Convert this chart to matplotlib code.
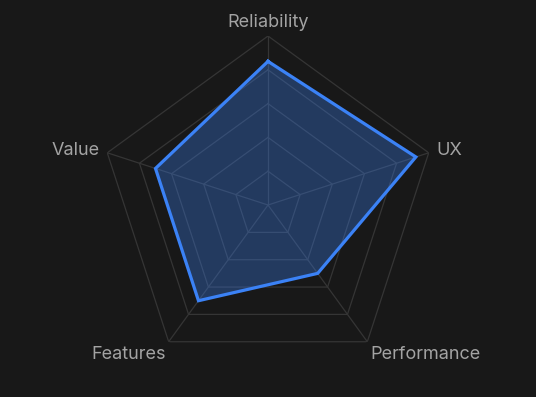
import matplotlib.pyplot as plt
import numpy as np

categories = ["Reliability", "UX", "Performance", "Features", "Value"]
scores = [85, 92, 50, 70, 70]
levels = [20, 40, 60, 80, 100]

bg = "#181818"
blue = "#3b82f6"
grid_col = "#353535"
label_col = "#a3a3a3"

n = len(categories)
angles = np.linspace(0, 2 * np.pi, n, endpoint=False)
closed = np.append(angles, angles[0])

fig = plt.figure(figsize=(5.36, 3.97), dpi=100, facecolor=bg)
ax = fig.add_axes([0.1847, 0.0579, 0.6306, 0.8514], projection="polar")
ax.set_facecolor(bg)
ax.set_theta_offset(np.pi / 2)
ax.set_theta_direction(-1)
ax.set_ylim(0, 100)
ax.grid(False)
ax.spines["polar"].set_visible(False)
ax.set_xticks([])
ax.set_yticks([])
ax.patch.set_alpha(0)

# pentagon grid and spokes
for lv in levels:
    ax.plot(closed, [lv] * (n + 1), color=grid_col, lw=0.9, zorder=1)
for a in angles:
    ax.plot([a, a], [0, 100], color=grid_col, lw=0.9, zorder=1)

vals = scores + scores[:1]
ax.fill(closed, vals, color=blue, alpha=0.32, lw=0, zorder=2)
ax.plot(closed, vals, color=blue, lw=2.3, zorder=3, solid_joinstyle="miter")

# axis labels
label_pos = [
    (108, "center", "center"),
    (104.7, "left", "center"),
    (103, "left", "top"),
    (103, "right", "top"),
    (104.7, "right", "center"),
]
for a, name, (r, ha, va) in zip(angles, categories, label_pos):
    ax.text(a, r, name, ha=ha, va=va, color=label_col, fontsize=13,
            family=["Inter", "DejaVu Sans"], clip_on=False)

fig.savefig("out.png", dpi=100, facecolor=bg)
